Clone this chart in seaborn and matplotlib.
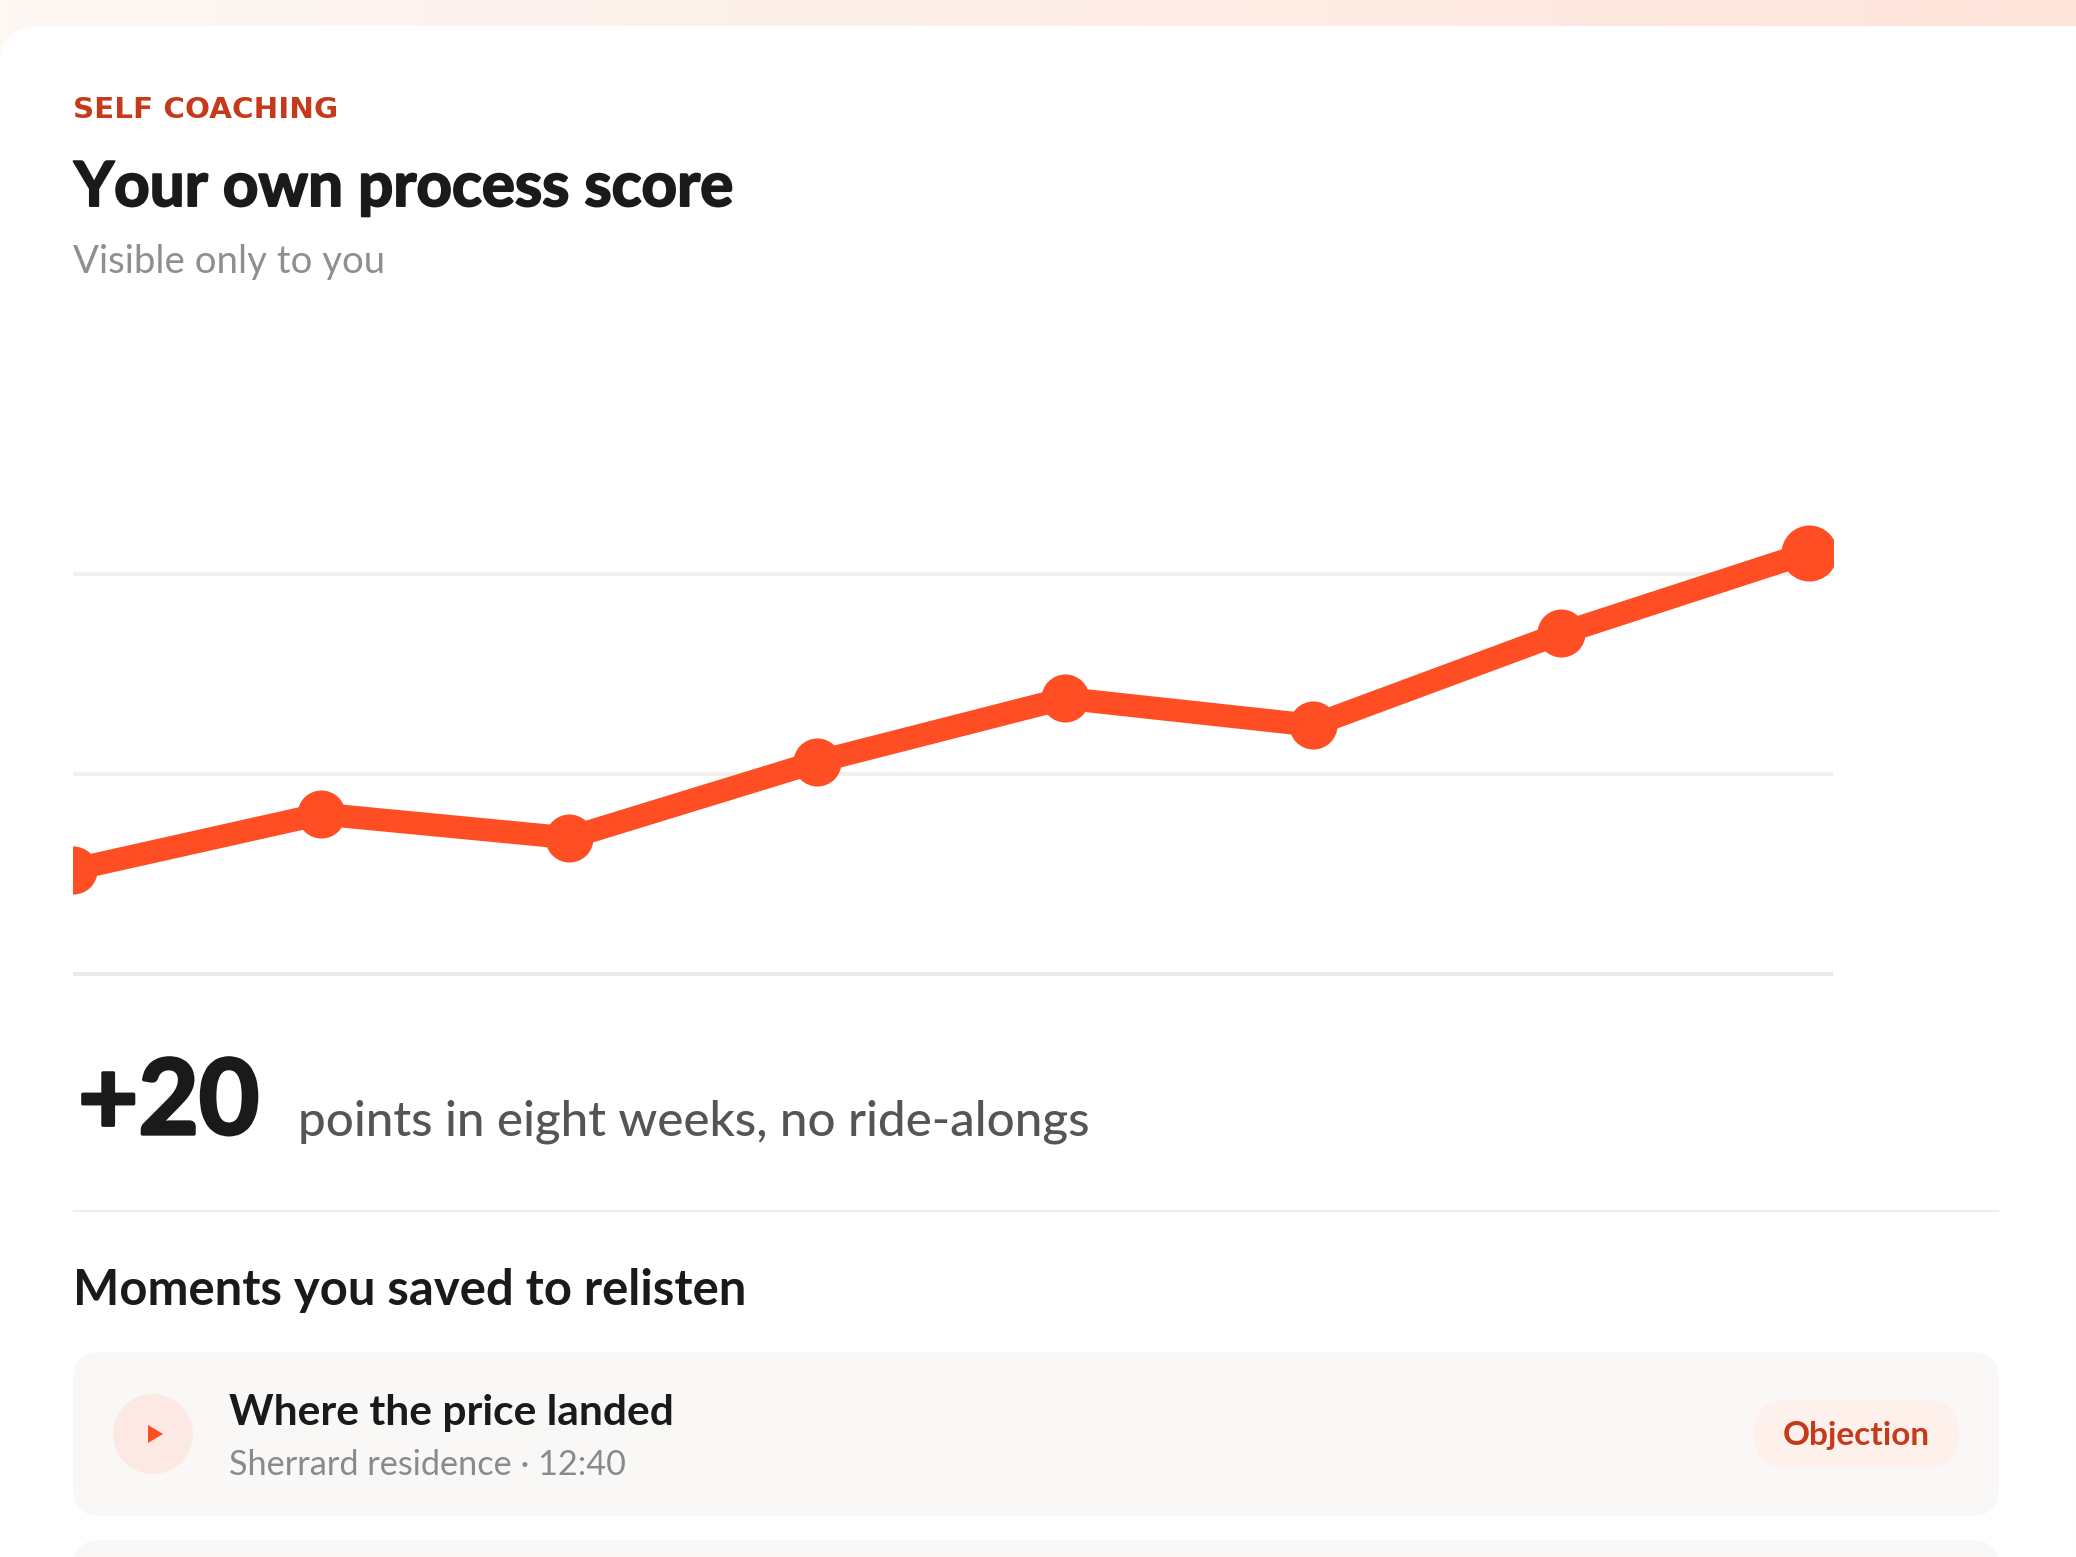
import numpy as np
import pandas as pd
import seaborn as sns
import matplotlib
matplotlib.use("Agg")
import matplotlib.pyplot as plt
import matplotlib.patheffects as pe
from matplotlib.patches import FancyBboxPatch, Circle, Polygon

# Datos
semanas = [1, 2, 3, 4, 5, 6, 7, 8]
puntaje = [62.6, 66.1, 64.6, 69.4, 73.4, 71.7, 77.5, 82.6]
lineas_guia = [56, 68.6, 81.25]

W, H = 2076, 1557
NARANJA = "#FF4D24"
ROJO = "#C63A1B"
NEGRO = "#1A1A1A"

sns.set_theme(style="white")
plt.rcParams["font.family"] = ["Lato", "DejaVu Sans"]

fig = plt.figure(figsize=(W / 100, H / 100), dpi=100, facecolor="white")

# Capa de fondo en pixeles
fondo = fig.add_axes([0, 0, 1, 1])
fondo.set_axis_off()

gradiente = np.linspace(0, 1, 256).reshape(1, -1, 1)
inicio = np.array(matplotlib.colors.to_rgb("#FEF8F4"))
fin = np.array(matplotlib.colors.to_rgb("#FDE4DB"))
fondo.imshow(inicio + gradiente * (fin - inicio), extent=[0, W, 70, 0], aspect="auto", zorder=0)
fondo.set_xlim(0, W)
fondo.set_ylim(H, 0)


def caja(x0, y0, x1, y1, r, color, z=1):
    p = FancyBboxPatch((x0 + r, y0 + r), x1 - x0 - 2 * r, y1 - y0 - 2 * r,
                       boxstyle=f"round,pad={r},rounding_size={r}",
                       fc=color, ec="none", lw=0, zorder=z)
    fondo.add_patch(p)


def grueso(ancho):
    return [pe.withStroke(linewidth=ancho, foreground=NEGRO)]


# La tarjeta solo redondea la esquina izquierda, el resto sale del lienzo
caja(0, 26, 2400, 1900, 40, "white", z=1)
fondo.plot([2075.5, 2075.5], [26, H], color="#EEEEEE", lw=0.8, zorder=2)
caja(73, 1352, 1999, 1516, 28, "#F9F8F6", z=2)
caja(73, 1540, 1999, 1800, 28, "#F9F8F6", z=2)
caja(1754, 1400, 1959, 1468, 34, "#FEF0EB", z=3)
fondo.add_patch(Circle((153, 1434), 40, fc="#FDE9E3", ec="none", zorder=3))
fondo.add_patch(Polygon([(148, 1425), (163, 1434), (148, 1443)], fc=NARANJA, ec="none", zorder=4))
fondo.plot([73, 1999], [1211, 1211], color="#EFEDE9", lw=1.5, zorder=2, solid_capstyle="butt")

# Textos
fondo.text(73, 118, "SELF COACHING", color=ROJO, fontsize=21.2, fontweight="bold",
           family=["DejaVu Sans"], zorder=5)
fondo.text(74, 206, "Your own process score", color=NEGRO, fontsize=44.6, fontweight="bold",
           path_effects=grueso(1.4), zorder=5)
fondo.text(73, 273, "Visible only to you", color="#8F8F8F", fontsize=27.6, zorder=5)
fondo.text(78, 1134, "+20", color=NEGRO, fontsize=75, fontweight="bold",
           path_effects=grueso(2.4), zorder=5)
fondo.text(298, 1135, "points in eight weeks, no ride-alongs", color="#555555", fontsize=35.5,
           fontweight="medium", zorder=5)
fondo.text(73, 1305, "Moments you saved to relisten", color=NEGRO, fontsize=35.3, fontweight="bold", zorder=5)
fondo.text(229, 1425, "Where the price landed", color=NEGRO, fontsize=30.6, fontweight="bold", zorder=5)
fondo.text(229, 1475, "Sherrard residence · 12:40", color="#8A8A8A", fontsize=24.7, zorder=5)
fondo.text(1783, 1444.5, "Objection", color=ROJO, fontsize=24, fontweight="bold", zorder=5)

# Grafica de linea
ax = fig.add_axes([73 / W, (H - 990) / H, 1760 / W, 554.75 / H])
ax.patch.set_alpha(0)
for valor, color in zip(lineas_guia, ["#ECE9E4", "#F3F1EC", "#F3F1EC"]):
    ax.axhline(valor, color=color, lw=2.9, zorder=1)
df = pd.DataFrame({"semana": semanas, "puntaje": puntaje})
sns.lineplot(data=df, x="semana", y="puntaje", color=NARANJA, linewidth=16.5,
             marker="o", markersize=34.6, markeredgewidth=0, ax=ax, zorder=3)
sns.scatterplot(data=df.tail(1), x="semana", y="puntaje", color=NARANJA, s=1626,
                linewidth=0, ax=ax, zorder=4)
ax.set_xlim(1, 8.097)
ax.set_ylim(55, 90)
ax.set_axis_off()

plt.savefig("out.png", dpi=100)
